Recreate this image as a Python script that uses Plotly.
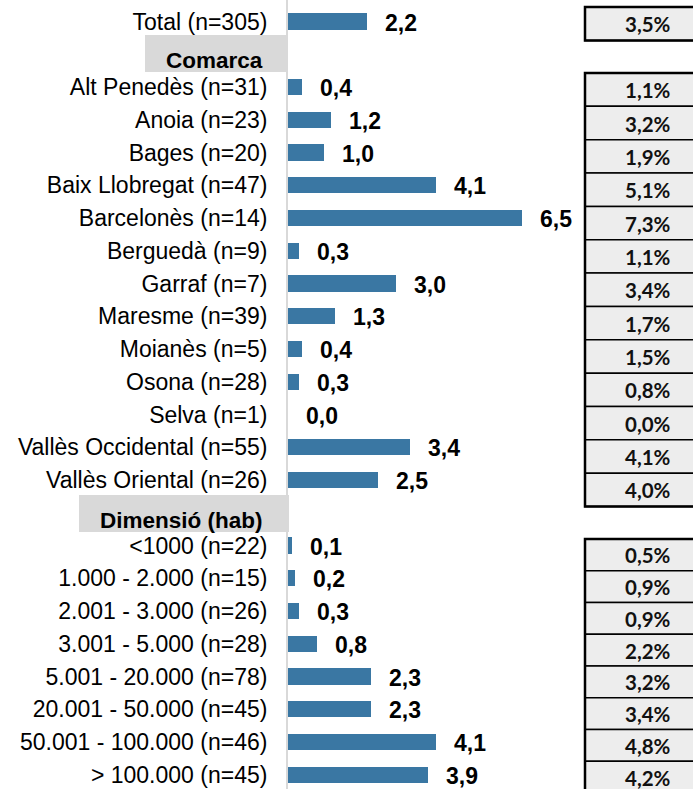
import plotly.graph_objects as go

# ---------------- data ----------------
total_label = "Total (n=305)"
total_value = 2.2
total_pct = "3,5%"

header_labels = ["Comarca", "Dimensió (hab)"]

comarca_labels = ["Alt Penedès (n=31)", "Anoia (n=23)", "Bages (n=20)", "Baix Llobregat (n=47)",
                  "Barcelonès (n=14)", "Berguedà (n=9)", "Garraf (n=7)", "Maresme (n=39)",
                  "Moianès (n=5)", "Osona (n=28)", "Selva (n=1)", "Vallès Occidental (n=55)",
                  "Vallès Oriental (n=26)"]
comarca_values = [0.4, 1.2, 1.0, 4.1, 6.5, 0.3, 3.0, 1.3, 0.4, 0.3, 0.0, 3.4, 2.5]
comarca_pct = ["1,1%", "3,2%", "1,9%", "5,1%", "7,3%", "1,1%", "3,4%", "1,7%", "1,5%",
               "0,8%", "0,0%", "4,1%", "4,0%"]

dim_labels = ["<1000 (n=22)", "1.000 - 2.000 (n=15)", "2.001 - 3.000 (n=26)", "3.001 - 5.000 (n=28)",
              "5.001 - 20.000 (n=78)", "20.001 - 50.000 (n=45)", "50.001 - 100.000 (n=46)",
              "> 100.000 (n=45)"]
dim_values = [0.1, 0.2, 0.3, 0.8, 2.3, 2.3, 4.1, 3.9]
dim_pct = ["0,5%", "0,9%", "0,9%", "2,2%", "3,2%", "3,4%", "4,8%", "4,2%"]

# ---------------- layout constants ----------------
W, H = 693, 789
ML = 288
PW = W - ML
BAR_COLOR = "#3a77a3"
LABEL_FONT = "Liberation Sans, Arial, sans-serif"
PCT_FONT = "Lato, Carlito, sans-serif"


def px_x(px):
    return (px - ML) / PW


def px_y(py):
    return 1 - py / H


# build rows
rows = [(total_label, total_value, False)]
rows.append((header_labels[0], None, True))
rows += [(l, v, False) for l, v in zip(comarca_labels, comarca_values)]
rows.append((header_labels[1], None, True))
rows += [(l, v, False) for l, v in zip(dim_labels, dim_values)]

ys, xs, tickvals, ticktext = [], [], [], []
header_pos = []
for i, (lab, val, is_h) in enumerate(rows):
    if is_h:
        header_pos.append((i, lab))
        continue
    ys.append(i)
    xs.append(val)
    tickvals.append(i)
    ticktext.append(lab.replace("<", "&lt;"))

fig = go.Figure()
fig.add_trace(go.Bar(
    x=xs, y=ys, orientation="h", width=0.5,
    marker=dict(color=BAR_COLOR, line=dict(width=0)),
    hoverinfo="skip",
))

annotations = []
# value labels
for x, y in zip(xs, ys):
    annotations.append(dict(
        x=x, y=y, xref="x", yref="y", text=f"{x:.1f}".replace(".", ","),
        showarrow=False, xanchor="center", yanchor="middle", xshift=34, yshift=-1,
        font=dict(family=LABEL_FONT, size=23, color="#000000", weight="bold"),
    ))

shapes = []
# header boxes and labels
header_boxes = {"Comarca": (145, 287, 35, 72), "Dimensió (hab)": (79, 289, 495, 532)}
for i, lab in header_pos:
    x0, x1, y0, y1 = header_boxes[lab]
    shapes.append(dict(type="rect", xref="paper", yref="paper",
                       x0=px_x(x0), x1=px_x(x1), y0=px_y(y1), y1=px_y(y0),
                       fillcolor="#d9d9d9", line=dict(width=0), layer="below"))
    annotations.append(dict(
        x=px_x(265), y=px_y((y0 + y1) / 2 + 7), xref="paper", yref="paper",
        text=f"<b>{lab}</b>", showarrow=False, xanchor="right", yanchor="middle",
        font=dict(family=LABEL_FONT, size=22.5, color="#000000"),
    ))

# percentage boxes (table at right)
pct_groups = [(7, 33.5, [total_pct]), (73, 33.35, comarca_pct), (539, 31.75, dim_pct)]
box_x0 = px_x(585)
box_x1 = px_x(720)
for top, ch, vals in pct_groups:
    for k, t in enumerate(vals):
        y0 = top + k * ch
        y1 = y0 + ch
        shapes.append(dict(type="rect", xref="paper", yref="paper",
                           x0=box_x0, x1=box_x1, y0=px_y(y1), y1=px_y(y0),
                           fillcolor="#ededed", line=dict(color="#000000", width=1.5)))
        annotations.append(dict(
            x=px_x(648), y=px_y((y0 + y1) / 2 + 0.5), xref="paper", yref="paper",
            text=t, showarrow=False, xanchor="center", yanchor="middle",
            font=dict(family=PCT_FONT, size=20.5, color="#111111", weight="bold"),
        ))
    bottom = top + len(vals) * ch
    shapes.append(dict(type="rect", xref="paper", yref="paper",
                       x0=box_x0, x1=box_x1, y0=px_y(bottom), y1=px_y(top),
                       fillcolor="rgba(0,0,0,0)", line=dict(color="#000000", width=2.5)))

# row 0 centre at 21.5px, pitch 32.75px
pitch = 32.75
y_top = -21.5 / pitch
y_bot = (H - 21.5) / pitch

fig.update_layout(
    width=W, height=H,
    margin=dict(l=ML, r=0, t=0, b=0),
    paper_bgcolor="white", plot_bgcolor="white",
    showlegend=False,
    bargap=0,
    xaxis=dict(range=[0, PW / 36.0], visible=False, fixedrange=True),
    yaxis=dict(range=[y_bot, y_top], tickvals=tickvals, ticktext=ticktext,
               showgrid=False, zeroline=False, ticks="", fixedrange=True,
               showline=True, linecolor="#d9d9d9", linewidth=2,
               ticklabelstandoff=14,
               tickfont=dict(family=LABEL_FONT, size=23, color="#000000")),
    shapes=shapes,
    annotations=annotations,
)

fig.write_html("out.html", config={"displayModeBar": False},
               post_script="document.body.style.margin='0';document.body.style.overflow='hidden';")
